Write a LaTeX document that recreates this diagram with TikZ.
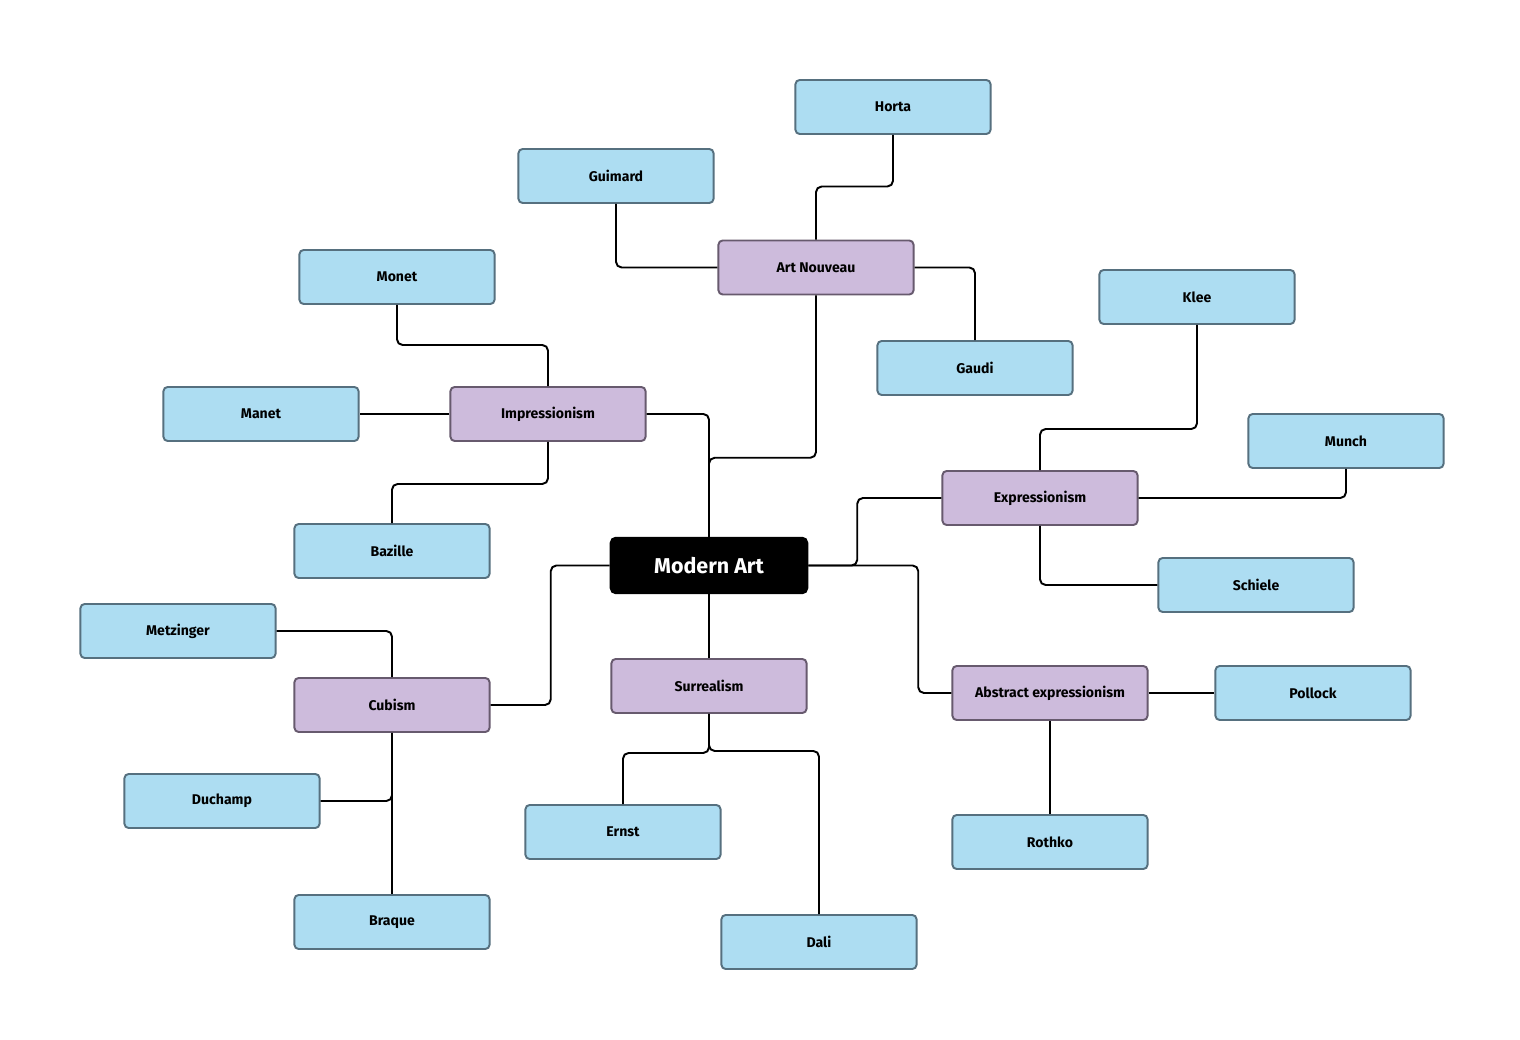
\documentclass[tikz,border=0pt]{standalone}
\usepackage{fontspec}
\setmainfont{Fira Sans}
\definecolor{leaffill}{HTML}{ADDDF2}
\definecolor{leafline}{HTML}{56707F}
\definecolor{topicfill}{HTML}{CDBBDC}
\definecolor{topicline}{HTML}{675A6E}
\begin{document}
\begin{tikzpicture}[x=0.01cm,y=-0.01cm,
		leaf/.style={draw=leafline,fill=leaffill,line width=0.55pt,rounded corners=1.2pt,rectangle,minimum width=1.95cm,minimum height=0.54cm,inner sep=0pt,font=\fontsize{4pt}{4.8pt}\selectfont\bfseries},
		topic/.style={leaf,draw=topicline,fill=topicfill},
		root/.style={draw=black,fill=black,text=white,rounded corners=1.5pt,rectangle,minimum width=1.97cm,minimum height=0.56cm,inner sep=0pt,font=\fontsize{6.1pt}{7.3pt}\selectfont\bfseries},
		link/.style={draw=black,line width=0.55pt,rounded corners=1.6pt}]
	\useasboundingbox[fill=white] (0,0) rectangle (1520,1040);
	\node[name=modern,root] at (709,565.5){Modern Art};
	\node[name=nouveau,topic] at (816,267.5){Art Nouveau};
	\node[name=impress,topic] at (548,414){Impressionism};
	\node[name=expr,topic] at (1040,498){Expressionism};
	\node[name=abstract,topic] at (1050,693){Abstract expressionism};
	\node[name=surreal,topic] at (709,686){Surrealism};
	\node[name=cubism,topic] at (392,705){Cubism};
	\node[name=horta,leaf] at (893,107){Horta};
	\node[name=guimard,leaf] at (616,176){Guimard};
	\node[name=gaudi,leaf] at (975,368){Gaudi};
	\node[name=monet,leaf] at (397,277){Monet};
	\node[name=manet,leaf] at (261,414){Manet};
	\node[name=bazille,leaf] at (392,551){Bazille};
	\node[name=klee,leaf] at (1197,297){Klee};
	\node[name=munch,leaf] at (1346,441){Munch};
	\node[name=schiele,leaf] at (1256,585){Schiele};
	\node[name=pollock,leaf] at (1313,693){Pollock};
	\node[name=rothko,leaf] at (1050,842){Rothko};
	\node[name=ernst,leaf] at (623,832){Ernst};
	\node[name=dali,leaf] at (819,942){Dali};
	\node[name=metzinger,leaf] at (178,631){Metzinger};
	\node[name=duchamp,leaf] at (222,801){Duchamp};
	\node[name=braque,leaf] at (392,922){Braque};
	% branches from the root
	\draw[link] (modern.north) -- ++(0,-79) -| (nouveau.south);
	\draw[link] (impress.east) -| (modern.north);
	\draw[link] (modern.east) -- ++(49,0) |- (expr.west);
	\draw[link] (modern.east) -- ++(110,0) |- (abstract.west);
	\draw[link] (modern.south) -- (surreal.north);
	\draw[link] (modern.west) -- ++(-59,0) |- (cubism.east);
	% Art Nouveau
	\draw[link] (nouveau.west) -| (guimard.south);
	\draw[link] (nouveau.north) -- ++(0,-53) -| (horta.south);
	\draw[link] (nouveau.east) -| (gaudi.north);
	% Impressionism
	\draw[link] (impress.north) -- ++(0,-41) -| (monet.south);
	\draw[link] (impress.west) -- (manet.east);
	\draw[link] (impress.south) -- ++(0,42) -| (bazille.north);
	% Expressionism
	\draw[link] (expr.north) -- ++(0,-41) -| (klee.south);
	\draw[link] (expr.east) -| (munch.south);
	\draw[link] (expr.south) |- (schiele.west);
	% Abstract expressionism
	\draw[link] (abstract.east) -- (pollock.west);
	\draw[link] (abstract.south) -- (rothko.north);
	% Surrealism
	\draw[link] (surreal.south) -- ++(0,39) -| (ernst.north);
	\draw[link] (surreal.south) -- ++(0,37) -| (dali.north);
	% Cubism
	\draw[link] (cubism.north) |- (metzinger.east);
	\draw[link] (cubism.south) |- (duchamp.east);
	\draw[link] (cubism.south) -- (braque.north);
\end{tikzpicture}
\end{document}
